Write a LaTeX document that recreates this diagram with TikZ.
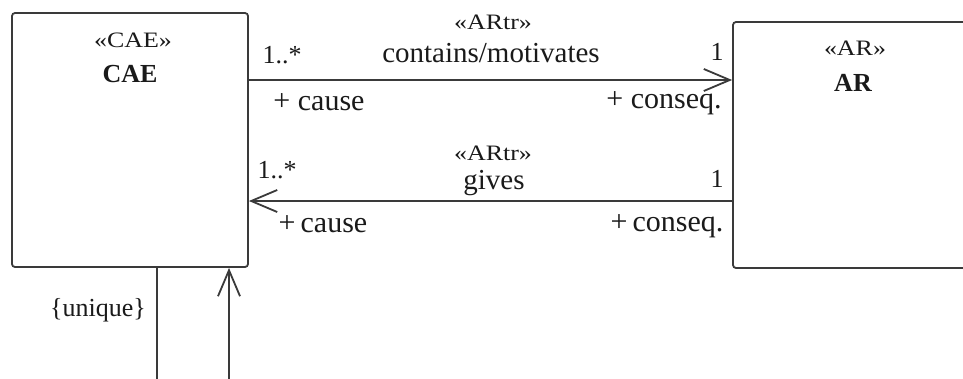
\documentclass[tikz,border=0pt]{standalone}
\usepackage{fontspec}
\setmainfont{Liberation Serif}
\newfontfamily\stfont[FakeStretch=1.18]{Liberation Serif}
\usetikzlibrary{arrows.meta}
\definecolor{linec}{HTML}{3A3A3A}
\definecolor{txtc}{HTML}{1A1A1A}
\begin{document}
\begin{tikzpicture}[x=1pt,y=-1pt,
  cls/.style={draw=linec, line width=1.8pt, rounded corners=3pt, fill=white, inner sep=0pt},
  assoc/.style={draw=linec, line width=1.8pt},
  opentip/.style={-{Straight Barb[length=26pt,width=22pt,line width=1.8pt]}},
  lbl/.style={anchor=base, inner sep=0pt, text=txtc, font=\fontsize{30}{32}\selectfont},
  assocname/.style={anchor=base, inner sep=0pt, text=txtc, font=\fontsize{29}{31}\selectfont},
  mult/.style={anchor=base, inner sep=0pt, text=txtc, font=\fontsize{26}{28}\selectfont},
  stereo/.style={anchor=base, inner sep=0pt, text=txtc, font=\stfont\fontsize{22}{24}\selectfont},
  clsname/.style={anchor=base, inner sep=0pt, text=txtc, font=\bfseries\fontsize{26}{28}\selectfont}
]
\useasboundingbox (0,0) rectangle (963,378);
\fill[white] (0,0) rectangle (963,378);

% classes
\node[cls, minimum width=236pt, minimum height=254pt] (cae) at (130,140) {};
\node[cls, minimum width=280pt, minimum height=246pt] (ar) at (873,145) {};

\node[stereo] (caest) at (133,47) {«CAE»};
\node[clsname] (caename) at (130,82) {CAE};
\node[stereo] (arst) at (855,55) {«AR»};
\node[clsname] (arname) at (853,91) {AR};

% association 1: CAE -> AR
\draw[assoc, opentip] (cae.east |- 0,80) -- (ar.west |- 0,80);
\node[stereo] (st1) at (493,29) {«ARtr»};
\node[assocname] (n1) at (491,62) {contains/motivates};
\node[mult] (m1a) at (282,63) {1..*};
\node[mult] (m1b) at (717,60) {1};
\node[lbl] (r1a) at (319,110) {+ cause};
\node[lbl] (r1b) at (664,108) {+ conseq.};

% association 2: AR -> CAE
\draw[assoc, opentip] (ar.west |- 0,201) -- (cae.east |- 0,201);
\node[stereo] (st2) at (493,160) {«ARtr»};
\node[assocname] (n2) at (494,189) {gives};
\node[mult] (m2a) at (277,178) {1..*};
\node[mult] (m2b) at (717,187) {1};
\node[lbl] (r2a) at (323,232) {+\,cause};
\node[lbl] (r2b) at (667,231) {+\,conseq.};

% self association
\coordinate (loopa) at (157,385);
\coordinate (loopb) at (229,385);
\draw[assoc] (cae.south -| loopa) -- (loopa);
\draw[assoc, opentip] (loopb) -- (cae.south -| loopb);
\node[mult] (uniq) at (98,316) {\{unique\}};
\end{tikzpicture}
\end{document}
